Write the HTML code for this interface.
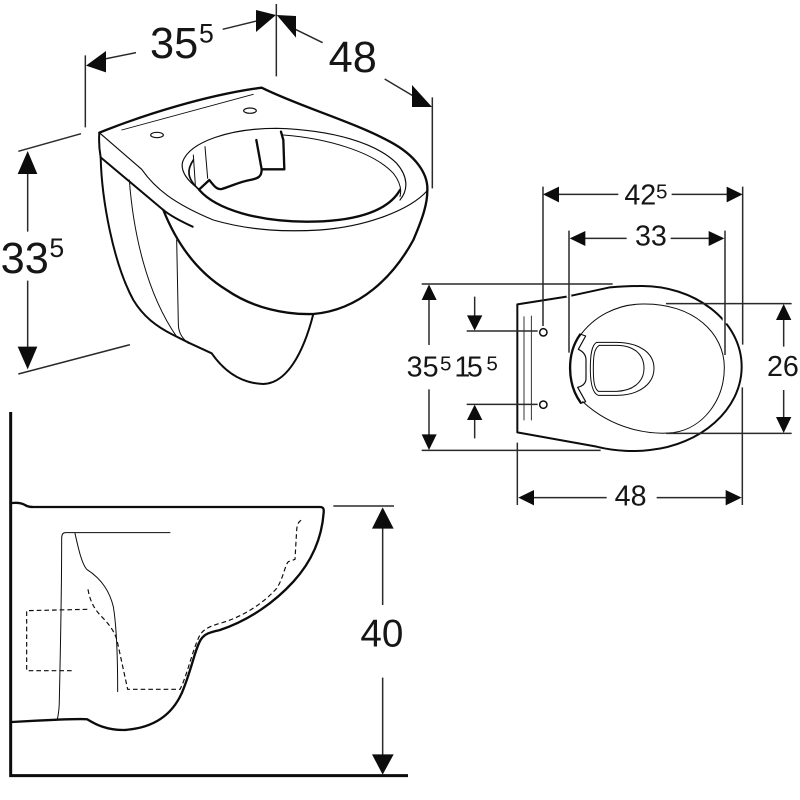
<!DOCTYPE html>
<html><head><meta charset="utf-8"><style>
html,body{margin:0;padding:0;background:#fff;width:800px;height:800px;overflow:hidden}
svg{display:block}
text{font-family:"Liberation Sans",sans-serif;fill:#161616}
.k{fill:none;stroke:#0c0c0c;stroke-linecap:round;stroke-linejoin:round}
.d{fill:none;stroke:#2a2a2a;stroke-width:4.5}
.a{fill:#0c0c0c;stroke:none}
</style></head><body>
<svg width="800" height="800" viewBox="0 0 800 800" xmlns="http://www.w3.org/2000/svg">
<rect width="800" height="800" fill="#fff"/>

<!-- isometric view -->
<g transform="scale(.33333)">
  <path class="d" d="M256 166V382M829 12V229M1297 292V565M55 454L243 401M55 1122L390 1034"/>
  <path class="d" d="M290 182L408 158M668 88L790 58M870 80L968 128M1154 237L1260 300M83 500V695M83 842V1060"/>
  <polygon class="a" points="258,197 318,153 318,217"/>
  <polygon class="a" points="828,45 768,30 768,96"/>
  <polygon class="a" points="830,45 888,48 888,113"/>
  <polygon class="a" points="1296,321 1236,255 1236,321"/>
  <polygon class="a" points="83,453 53,522 112,522"/>
  <polygon class="a" points="83,1108 53,1040 112,1040"/>
  <text x="450" y="174" font-size="130">35</text><text x="597" y="127" font-size="80">5</text>
  <text x="986" y="216" font-size="130">48</text>
  <text x="2" y="819" font-size="130">33</text><text x="148" y="771" font-size="80">5</text>

  <path class="k" stroke-width="7" d="M298 398C430 345 620 285 785 263C900 320 1060 365 1170 425C1245 465 1285 520 1282 572"/>
  <path class="k" stroke-width="3.5" d="M298 398L425 508C465 565 520 610 640 660C760 695 870 695 960 690C1100 680 1230 630 1282 572"/>
  <path class="k" stroke-width="6" d="M298 398C296 425 298 450 302 472L490 630C515 650 545 665 578 680"/>
  <path class="k" stroke-width="7" d="M490 630C530 730 590 815 680 870C760 925 860 945 940 942C1080 930 1180 830 1240 720C1270 650 1282 610 1282 572"/>
  <path class="k" stroke-width="6" d="M302 472C305 600 340 790 400 900C430 950 470 980 520 1005L570 1030L635 1060C670 1110 720 1150 790 1152C860 1150 910 1060 940 942"/>
  <path class="k" stroke-width="3" d="M388 540C400 700 440 880 530 1010M530 720L535 970C535 990 540 1010 565 1030"/>
  <path class="k" stroke-width="2.5" d="M365 390L760 283"/>
  <ellipse class="k" stroke-width="3.5" cx="471" cy="405" rx="19" ry="8"/>
  <ellipse class="k" stroke-width="3.5" cx="750" cy="332" rx="19" ry="8"/>
  <path class="k" stroke-width="3.5" d="M598 568C565 545 540 515 548 485C570 425 690 385 830 385C1000 390 1130 430 1190 490C1225 530 1225 570 1200 600"/>
  <path class="k" stroke-width="3" d="M850 405C980 415 1120 455 1180 520C1200 545 1205 570 1200 590"/>
  <path class="k" stroke-width="7" d="M598 570C650 630 780 665 920 665C1050 665 1160 640 1200 570"/>
  <path class="k" stroke-width="7" d="M843 395L850 420L853 508H785L769 420M785 508C785 530 775 535 750 540C720 545 690 560 665 567C650 570 640 555 628 540L598 568"/>
  <path class="k" stroke-width="3" d="M615 440L623 535M580 465L586 555"/>
  <path class="k" stroke-width="5" d="M580 480C560 510 560 535 598 570"/>
</g>

<!-- plan view -->
<g transform="translate(410 170) scale(.33333)">
  <path class="k" stroke-width="6" d="M322 403V787L560 830C620 845 680 845 720 840C870 825 995 720 995 590C995 450 850 345 690 348C660 348 630 350 600 352L470 380Z"/>
  <path class="k" stroke-width="3" d="M518 695C610 780 720 795 790 788C880 775 943 690 943 592C943 490 850 400 700 402C620 402 550 440 508 500"/>
  <path class="k" stroke-width="7" d="M510 494C470 550 470 640 512 698"/>
  <path class="k" stroke-width="3.5" d="M510 492L527 498L505 538C520 545 528 555 528 570V625C528 640 520 648 503 652L527 695L512 700"/>
  <path class="k" stroke-width="3" d="M560 517H620C690 518 732 550 732 595C732 640 690 676 620 676H565C548 670 541 640 541 595C541 555 545 525 560 517Z"/>
  <path class="k" stroke-width="3" d="M568 526H625C675 528 702 555 702 595C702 635 670 662 620 664H565C552 655 550 630 550 595C550 560 552 535 568 526Z"/>
  <path class="k" stroke-width="2.5" d="M342 440V750M364 438V750"/>
  <circle class="k" stroke-width="4.5" cx="400" cy="487" r="11"/>
  <circle class="k" stroke-width="4.5" cx="400" cy="704" r="11"/>
  <g stroke="#fff" stroke-width="14" fill="none"><path d="M477 375V382M945 440V460M998 495V524"/></g>
  <path class="d" d="M399 50V468M998 50V524M477 182V548M945 182V555M322 818V1005M997 652V1005"/>
  <path class="d" d="M35 342H608M35 841H572M170 483H383M170 703H383M768 401H1145M768 790H1145"/>
  <path class="d" d="M440 73H625M785 73H960M520 205H650M782 205H900M370 983H590M740 983H950M57 385V525M57 658V800M194 380V440M194 745V805M1121 450V530M1121 660V745"/>
  <polygon class="a" points="399,73 447,50 447,97"/>
  <polygon class="a" points="998,73 950,50 950,97"/>
  <polygon class="a" points="479,205 526,183 526,228"/>
  <polygon class="a" points="943,205 896,183 896,228"/>
  <polygon class="a" points="325,983 372,960 372,1006"/>
  <polygon class="a" points="995,983 947,960 947,1006"/>
  <polygon class="a" points="57,343 35,390 80,390"/>
  <polygon class="a" points="57,840 35,793 80,793"/>
  <polygon class="a" points="194,482 171,436 217,436"/>
  <polygon class="a" points="194,704 171,750 217,750"/>
  <polygon class="a" points="1121,402 1098,450 1144,450"/>
  <polygon class="a" points="1121,789 1098,741 1144,741"/>
  <text x="643" y="104" font-size="86">42</text><text x="738" y="85" font-size="62">5</text>
  <text x="675" y="227" font-size="86">33</text>
  <text x="-10" y="619" font-size="86">35</text><text x="90" y="602" font-size="62">5</text>
  <text x="133" y="619" font-size="86" letter-spacing="-10">15</text><text x="229" y="602" font-size="62">5</text>
  <text x="1071" y="618" font-size="86">26</text>
  <text x="614" y="1006" font-size="86">48</text>
</g>

<!-- side view -->
<g transform="translate(0 400) scale(.33333)">
  <path class="k" stroke-width="9" style="stroke-linecap:butt;stroke-linejoin:miter" d="M32 36V1127H1224"/>
  <path class="k" stroke-width="7" d="M36 309C55 307 65 309 75 315C82 320 90 321 100 321H960C970 321 972 326 971 338C965 420 930 490 880 545C825 605 750 660 660 690C630 697 615 700 603 718C585 745 575 810 545 880C520 935 470 985 370 990C320 990 290 975 262 958C240 955 100 962 36 966"/>
  <path class="k" stroke-width="3" d="M510 398H196C188 398 185 405 185 415C185 600 180 800 178 900C178 925 176 940 172 958"/>
  <path class="k" stroke-width="3" d="M225 400C235 445 245 490 260 508C310 540 330 580 340 620C350 680 353 760 353 875"/>
  <path class="k" stroke-width="3.5" stroke-dasharray="14 9" style="stroke-linecap:butt" d="M262 628L80 632V812H222"/>
  <path class="k" stroke-width="3.5" stroke-dasharray="14 9" style="stroke-linecap:butt" d="M264 568C270 605 285 630 305 650C325 670 345 695 352 725L383 868H540C560 830 575 760 595 715C605 690 625 680 660 670C730 650 790 610 830 565C850 535 855 495 865 485L885 478L890 390C892 370 896 365 905 360"/>
  <path class="d" d="M1000 318H1182M1148 385V615M1148 833V1065"/>
  <polygon class="a" points="1148,322 1116,386 1181,386"/>
  <polygon class="a" points="1148,1124 1116,1063 1181,1063"/>
  <text x="1081" y="740" font-size="116">40</text>
</g>
</svg>
</body></html>
